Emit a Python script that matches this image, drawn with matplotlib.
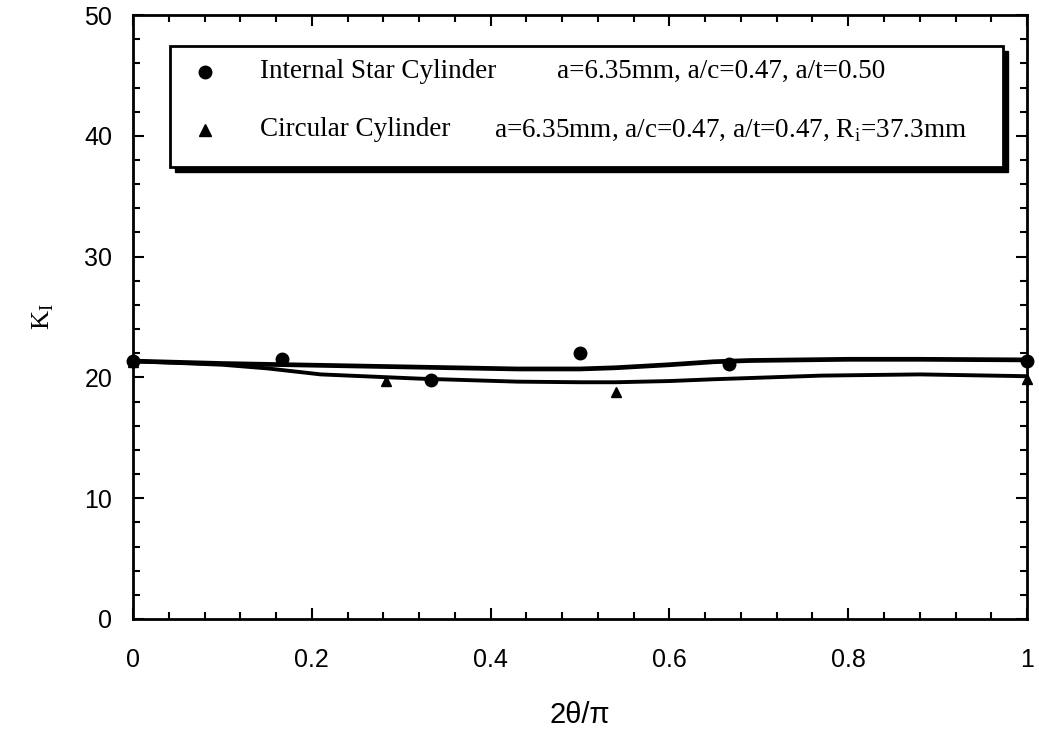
import numpy as np
from matplotlib import pyplot as plt
from matplotlib.patches import Rectangle
from matplotlib.ticker import MultipleLocator

# measured points
star_x = [0.0, 1/6, 1/3, 0.5, 2/3, 1.0]
star_k = [21.35, 21.5, 19.75, 22.0, 21.15, 21.4]
circ_x = [0.0, 0.283, 0.54, 1.0]
circ_k = [21.3, 19.7, 18.8, 19.9]

# fitted curves
star_fit_x = [0.0, 0.1, 0.21, 0.32, 0.43, 0.5, 0.54, 0.6, 0.65, 0.69, 0.8, 0.88, 1.0]
star_fit_k = [21.35, 21.15, 21.0, 20.85, 20.7, 20.7, 20.8, 21.05, 21.3, 21.4, 21.5, 21.5, 21.45]
circ_fit_x = [0.0, 0.1, 0.15, 0.21, 0.32, 0.43, 0.5, 0.54, 0.6, 0.65, 0.77, 0.88, 1.0]
circ_fit_k = [21.35, 21.05, 20.75, 20.25, 19.9, 19.65, 19.6, 19.6, 19.7, 19.85, 20.15, 20.25, 20.1]

xticks = [0, 0.2, 0.4, 0.6, 0.8, 1]
xticklabels = ['0', '0.2', '0.4', '0.6', '0.8', '1']
yticks = [0, 10, 20, 30, 40, 50]

plt.rcParams['font.family'] = ['Liberation Sans', 'DejaVu Sans']
plt.rcParams['mathtext.fontset'] = 'custom'
plt.rcParams['mathtext.rm'] = 'Liberation Serif'

fig = plt.figure(figsize=(10.39, 7.32), dpi=100)
ax = fig.add_axes([0.128, 0.1544, 0.8605, 0.825])

ax.plot(star_fit_x, star_fit_k, color='black', lw=3.4, solid_capstyle='round')
ax.plot(circ_fit_x, circ_fit_k, color='black', lw=2.8, solid_capstyle='round')
ax.plot(star_x, star_k, 'o', color='black', ms=9, clip_on=False)
ax.plot(circ_x, circ_k, '^', color='black', ms=7.5, clip_on=False)

ax.set_xlim(0, 1)
ax.set_ylim(0, 50)
ax.set_xticks(xticks)
ax.set_xticklabels(xticklabels)
ax.set_yticks(yticks)
ax.xaxis.set_minor_locator(MultipleLocator(0.04))
ax.yaxis.set_minor_locator(MultipleLocator(2))
ax.tick_params(which='both', direction='in', top=True, right=True,
               labelsize=18, width=1.5)
ax.tick_params(axis='x', pad=21)
ax.tick_params(axis='y', pad=15)
ax.tick_params(which='major', length=8)
ax.tick_params(which='minor', length=5)
for s in ax.spines.values():
    s.set_linewidth(2)

ax.set_xlabel('2θ/π', fontsize=21, labelpad=21)
ax.set_ylabel('K$_\\mathrm{I}$', fontsize=19, labelpad=20, family='Liberation Serif')

# legend box with shadow
shadow = Rectangle((0.047, 0.740), 0.932, 0.201, transform=ax.transAxes,
                   facecolor='black', edgecolor='black', zorder=3)
box = Rectangle((0.041, 0.748), 0.932, 0.201, transform=ax.transAxes,
                facecolor='white', edgecolor='black', lw=2, zorder=4)
ax.add_patch(shadow)
ax.add_patch(box)

serif = 'Liberation Serif'
fs = 19.5
ax.plot([0.08], [45.3], 'o', color='black', ms=9, zorder=5)
ax.plot([0.08], [40.5], '^', color='black', ms=8.5, zorder=5)
ax.text(0.142, 45.3, 'Internal Star Cylinder', family=serif, fontsize=fs,
        va='center', zorder=5)
ax.text(0.474, 45.3, 'a=6.35mm, a/c=0.47, a/t=0.50', family=serif, fontsize=fs,
        va='center', zorder=5)
ax.text(0.142, 40.5, 'Circular Cylinder', family=serif, fontsize=fs,
        va='center', zorder=5)
ax.text(0.404, 40.5, 'a=6.35mm, a/c=0.47, a/t=0.47, R$_\\mathrm{i}$=37.3mm',
        family=serif, fontsize=fs, va='center', zorder=5)

plt.savefig('out.png', dpi=100)
